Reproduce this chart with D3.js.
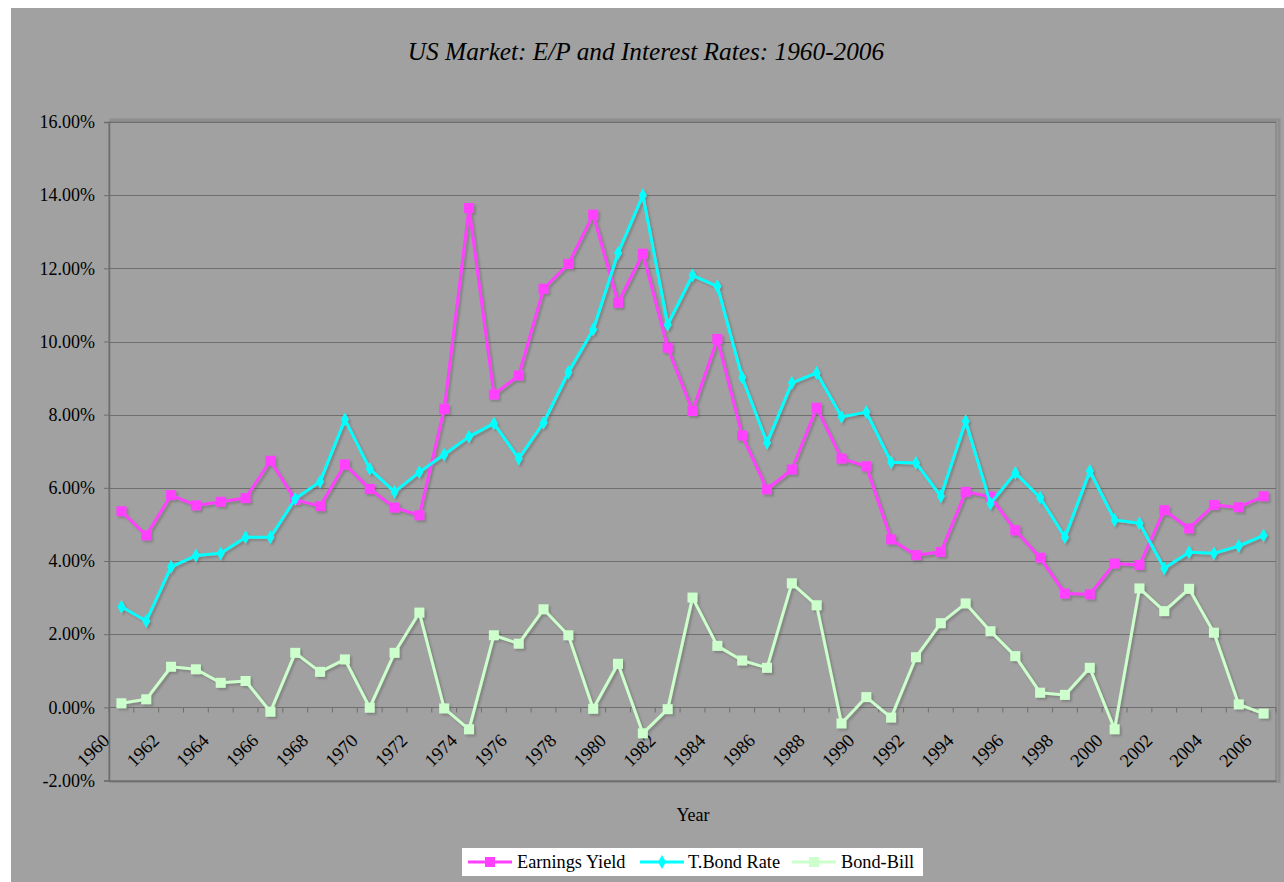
<!DOCTYPE html>
<html>
<head>
<meta charset="utf-8">
<script src="https://cdn.jsdelivr.net/npm/d3@7"></script>
<style>
  html, body { margin: 0; padding: 0; background: #ffffff; }
  svg { display: block; }
  text { font-family: "Liberation Serif", "Times New Roman", serif; fill: #000; }
</style>
</head>
<body>
<svg id="chart" width="1284" height="882"></svg>
<script>
// Years on the category axis
const years = d3.range(1960, 2007);

// Earnings yield on the market (E/P), in percent
const earningsYield = [
  5.36, 4.70, 5.80, 5.52, 5.62, 5.72, 6.74, 5.67, 5.50, 6.64,
  5.97, 5.46, 5.25, 8.16, 13.65, 8.55, 9.07, 11.44, 12.12, 13.47,
  11.06, 12.40, 9.83, 8.10, 10.07, 7.43, 5.96, 6.50, 8.19, 6.80,
  6.59, 4.59, 4.16, 4.25, 5.89, 5.76, 4.84, 4.09, 3.11, 3.09,
  3.93, 3.89, 5.39, 4.89, 5.53, 5.47, 5.77
];

// Ten-year Treasury bond rate, in percent
const tBondRate = [
  2.75, 2.36, 3.84, 4.15, 4.21, 4.65, 4.65, 5.70, 6.17, 7.87,
  6.52, 5.89, 6.43, 6.91, 7.40, 7.76, 6.80, 7.78, 9.16, 10.33,
  12.42, 14.00, 10.46, 11.81, 11.51, 9.01, 7.23, 8.87, 9.14, 7.94,
  8.07, 6.70, 6.68, 5.77, 7.82, 5.57, 6.41, 5.73, 4.65, 6.46,
  5.12, 5.03, 3.80, 4.24, 4.21, 4.41, 4.70
];

// Bond rate minus bill rate, in percent
const bondBill = [
  0.11, 0.22, 1.11, 1.04, 0.67, 0.72, -0.12, 1.49, 0.97, 1.31,
  -0.01, 1.49, 2.59, -0.03, -0.60, 1.97, 1.74, 2.68, 1.97, -0.04,
  1.19, -0.71, -0.05, 3.00, 1.68, 1.28, 1.08, 3.39, 2.79, -0.44,
  0.28, -0.28, 1.37, 2.30, 2.84, 2.08, 1.40, 0.40, 0.34, 1.08,
  -0.60, 3.25, 2.63, 3.24, 2.04, 0.08, -0.17
];

// Value-axis ticks (fractions) and labelled years on the category axis
const yTicks = [-0.02, 0, 0.02, 0.04, 0.06, 0.08, 0.10, 0.12, 0.14, 0.16];
const xLabelYears = years.filter(y => y % 2 === 0);

const seriesNames = ["Earnings Yield", "T.Bond Rate", "Bond-Bill"];
const seriesColors = ["#ff40ff", "#00ffff", "#ccffcc"];
const seriesMarkers = ["square", "diamond", "square"];

const series = [earningsYield, tBondRate, bondBill].map((vals, i) => ({
  name: seriesNames[i],
  color: seriesColors[i],
  marker: seriesMarkers[i],
  points: vals.map((v, j) => ({ year: years[j], value: v / 100 }))
}));

const svg = d3.select("#chart");

// Drop shadow used by the data lines and markers
const defs = svg.append("defs");
const shadow = defs.append("filter").attr("id", "shadow")
  .attr("x", "-20%").attr("y", "-20%").attr("width", "140%").attr("height", "140%");
shadow.append("feDropShadow")
  .attr("dx", 2).attr("dy", 2).attr("stdDeviation", 0.8)
  .attr("flood-color", "#5a5a5a").attr("flood-opacity", 0.45);

// Chart background
svg.append("rect")
  .attr("x", 11).attr("y", 8).attr("width", 1273).attr("height", 874)
  .attr("fill", "#a1a1a1");

const plot = { left: 109, right: 1276, top: 122, bottom: 780.5 };

const x = d3.scaleBand().domain(years).range([plot.left, plot.right]);
const cx = yr => x(yr) + x.bandwidth() / 2;
const y = d3.scaleLinear().domain([-0.02, 0.16]).range([plot.bottom, plot.top]);

// Plot area frame with a soft shadow
svg.append("rect")
  .attr("x", plot.left + 2).attr("y", plot.top - 2)
  .attr("width", plot.right - plot.left + 1).attr("height", plot.bottom - plot.top + 3)
  .attr("fill", "none").attr("stroke", "#8e8e8e").attr("stroke-width", 3);
svg.append("rect")
  .attr("x", plot.left).attr("y", plot.top)
  .attr("width", plot.right - plot.left).attr("height", plot.bottom - plot.top)
  .attr("fill", "#a1a1a1").attr("stroke", "#7a7a7a").attr("stroke-width", 1);

// Horizontal gridlines
svg.append("g")
  .selectAll("line")
  .data(yTicks)
  .join("line")
  .attr("x1", plot.left).attr("x2", plot.right)
  .attr("y1", d => Math.round(y(d)) + 0.5).attr("y2", d => Math.round(y(d)) + 0.5)
  .attr("stroke", "#6e6e6e").attr("stroke-width", 1.2);

// Value axis
const pctFormat = d3.formatLocale({
  decimal: ".", thousands: ",", grouping: [3], currency: ["$", ""], minus: "-"
}).format(".2%");

svg.append("g")
  .attr("transform", `translate(${plot.left},0)`)
  .call(d3.axisLeft(y).tickValues(yTicks).tickFormat(pctFormat).tickSize(5).tickPadding(9))
  .call(g => g.select(".domain").attr("stroke", "#6e6e6e").attr("stroke-width", 1.5))
  .call(g => g.selectAll(".tick line").attr("stroke", "#6e6e6e"))
  .call(g => g.selectAll(".tick text")
    .attr("font-family", "Liberation Serif, serif").attr("font-size", 18).attr("fill", "#000"));

// Category axis along the zero line
const zeroY = Math.round(y(0)) + 0.5;
const xAxisG = svg.append("g");
xAxisG.append("line")
  .attr("x1", plot.left).attr("x2", plot.right)
  .attr("y1", zeroY).attr("y2", zeroY)
  .attr("stroke", "#6e6e6e").attr("stroke-width", 1.2);
xAxisG.selectAll("line.tick")
  .data(years.concat([years[years.length - 1] + 1]))
  .join("line")
  .attr("class", "tick")
  .attr("x1", (d, i) => plot.left + i * x.step())
  .attr("x2", (d, i) => plot.left + i * x.step())
  .attr("y1", zeroY).attr("y2", zeroY + 5)
  .attr("stroke", "#6e6e6e").attr("stroke-width", 1);
xAxisG.selectAll("text")
  .data(xLabelYears)
  .join("text")
  .attr("transform", d => `translate(${cx(d) - 15},${zeroY + 30}) rotate(-45)`)
  .attr("text-anchor", "end")
  .attr("dominant-baseline", "central")
  .attr("font-size", 18.5)
  .text(d => d);

// Series lines and markers
const line = d3.line().x(d => cx(d.year)).y(d => y(d.value));

const seriesG = svg.append("g").attr("filter", "url(#shadow)");
series.forEach(s => {
  const g = seriesG.append("g");
  g.append("path")
    .datum(s.points)
    .attr("d", line)
    .attr("fill", "none")
    .attr("stroke", s.color)
    .attr("stroke-width", 3)
    .attr("stroke-linejoin", "round");
  const sym = s.marker === "diamond"
    ? d3.symbol().type(d3.symbolDiamond).size(55)
    : d3.symbol().type(d3.symbolSquare).size(100);
  g.selectAll("path.m")
    .data(s.points)
    .join("path")
    .attr("class", "m")
    .attr("d", sym)
    .attr("transform", d => `translate(${cx(d.year)},${y(d.value)})`)
    .attr("fill", s.color);
});

// Title
svg.append("text")
  .attr("x", 646).attr("y", 60)
  .attr("text-anchor", "middle")
  .attr("font-size", 25.3)
  .attr("font-style", "italic")
  .text("US Market: E/P and Interest Rates: 1960-2006");

// Category axis title
svg.append("text")
  .attr("x", 693).attr("y", 821)
  .attr("text-anchor", "middle")
  .attr("font-size", 18)
  .text("Year");

// Legend
const legend = svg.append("g");
legend.append("rect")
  .attr("x", 462).attr("y", 848).attr("width", 461).attr("height", 28)
  .attr("fill", "#ffffff");
const legendItems = [
  { lx: 468, tx: 517 },
  { lx: 640, tx: 688 },
  { lx: 792, tx: 841 }
];
series.forEach((s, i) => {
  const it = legendItems[i];
  const gy = 862;
  legend.append("line")
    .attr("x1", it.lx).attr("x2", it.lx + 44)
    .attr("y1", gy).attr("y2", gy)
    .attr("stroke", s.color).attr("stroke-width", 3);
  const sym = s.marker === "diamond"
    ? d3.symbol().type(d3.symbolDiamond).size(55)
    : d3.symbol().type(d3.symbolSquare).size(100);
  legend.append("path")
    .attr("d", sym)
    .attr("transform", `translate(${it.lx + 22},${gy})`)
    .attr("fill", s.color);
  legend.append("text")
    .attr("x", it.tx).attr("y", gy + 6)
    .attr("font-size", 18.3)
    .text(s.name);
});
</script>
</body>
</html>
